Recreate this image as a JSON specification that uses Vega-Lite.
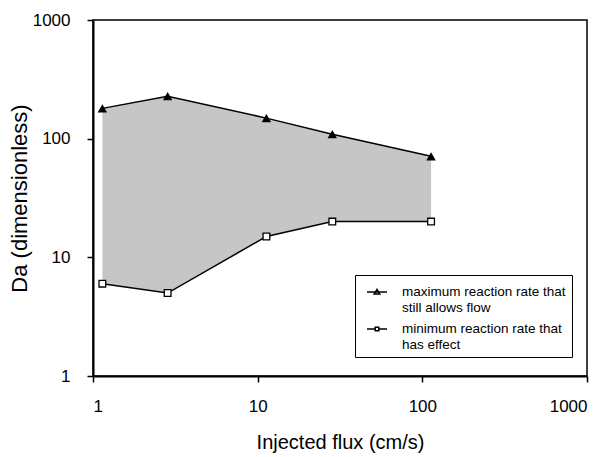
{
  "$schema": "https://vega.github.io/schema/vega-lite/v6.json",
  "width": 494,
  "height": 356,
  "autosize": {"type": "none"},
  "padding": {"left": 93, "top": 20, "right": 26, "bottom": 81},
  "config": {
    "font": "Liberation Sans",
    "view": {"stroke": "black", "strokeWidth": 1.5},
    "axis": {"grid": false, "domainColor": "black", "domainWidth": 2, "tickColor": "black", "tickWidth": 1.5, "tickSize": 6, "labelColor": "black", "titleColor": "black", "labelFontSize": 17, "titleFontWeight": "normal", "labelFont": "Liberation Sans", "titleFont": "Liberation Sans"}
  },
  "data": {"values": [
    {"x": 1.14, "max": 180, "min": 6},
    {"x": 2.84, "max": 228, "min": 5},
    {"x": 11.3, "max": 149, "min": 15},
    {"x": 28.4, "max": 109, "min": 20},
    {"x": 113, "max": 71, "min": 20}
  ]},
  "layer": [
    {
      "mark": {"type": "area", "color": "#c6c6c6", "opacity": 1},
      "encoding": {
        "x": {"field": "x", "type": "quantitative", "scale": {"type": "log", "domain": [1, 1000]},
          "axis": {"values": [1, 10, 100, 1000], "format": "d", "title": "Injected flux (cm/s)", "titleFontSize": 20, "labelPadding": 16, "titlePadding": 18}},
        "y": {"field": "max", "type": "quantitative", "scale": {"type": "log", "domain": [1, 1000]},
          "axis": {"values": [1, 10, 100, 1000], "format": "d", "title": "Da (dimensionless)", "titleFontSize": 22, "labelPadding": 17, "titlePadding": 1}},
        "y2": {"field": "min"}
      }
    },
    {
      "mark": {"type": "line", "color": "black", "strokeWidth": 1.5},
      "encoding": {
        "x": {"field": "x", "type": "quantitative"},
        "y": {"field": "max", "type": "quantitative"}
      }
    },
    {
      "mark": {"type": "line", "color": "black", "strokeWidth": 1.5},
      "encoding": {
        "x": {"field": "x", "type": "quantitative"},
        "y": {"field": "min", "type": "quantitative"}
      }
    },
    {
      "mark": {"type": "point", "shape": "triangle-up", "filled": true, "color": "black", "size": 90, "opacity": 1},
      "encoding": {
        "x": {"field": "x", "type": "quantitative"},
        "y": {"field": "max", "type": "quantitative"}
      }
    },
    {
      "mark": {"type": "point", "shape": "square", "fill": "white", "stroke": "black", "strokeWidth": 1.3, "size": 45, "opacity": 1, "fillOpacity": 1},
      "encoding": {
        "x": {"field": "x", "type": "quantitative"},
        "y": {"field": "min", "type": "quantitative"}
      }
    },
    {
      "transform": [{"fold": ["max", "min"], "as": ["series", "value"]}],
      "mark": {"type": "point", "color": "black", "opacity": 0, "strokeWidth": 1.3, "size": 400},
      "encoding": {
        "x": {"field": "x", "type": "quantitative"},
        "y": {"field": "value", "type": "quantitative"},
        "shape": {"field": "series", "type": "nominal",
          "scale": {"domain": ["max", "min"], "range": ["M-0.5,0H1.5M0.22,0.2L0.5,-0.26L0.78,0.2Z", "M-0.5,0H0.32M0.68,0H1.5M0.32,-0.18H0.68V0.18H0.32Z"]},
          "legend": {
            "title": null, "orient": "none", "legendX": 262, "legendY": 255,
            "strokeColor": "black", "fillColor": "white", "padding": 6,
            "symbolOpacity": 1, "symbolSize": 400, "symbolStrokeColor": "black", "symbolStrokeWidth": 1.5,
            "labelFontSize": 13.5, "labelColor": "black", "labelLimit": 300, "labelOffset": 19, "rowPadding": 4,
            "labelExpr": "datum.label == 'max' ? ['maximum reaction rate that', 'still allows flow'] : ['minimum reaction rate that', 'has effect']",
            "encode": {"symbols": {"update": {
              "stroke": {"value": "black"},
              "fill": {"signal": "datum.value === 'max' ? 'black' : 'white'"},
              "fillOpacity": {"value": 1},
              "strokeWidth": {"value": 1.5}, "strokeOpacity": {"value": 1}, "opacity": {"value": 1}}}}
          }}
      }
    }
  ]
}
